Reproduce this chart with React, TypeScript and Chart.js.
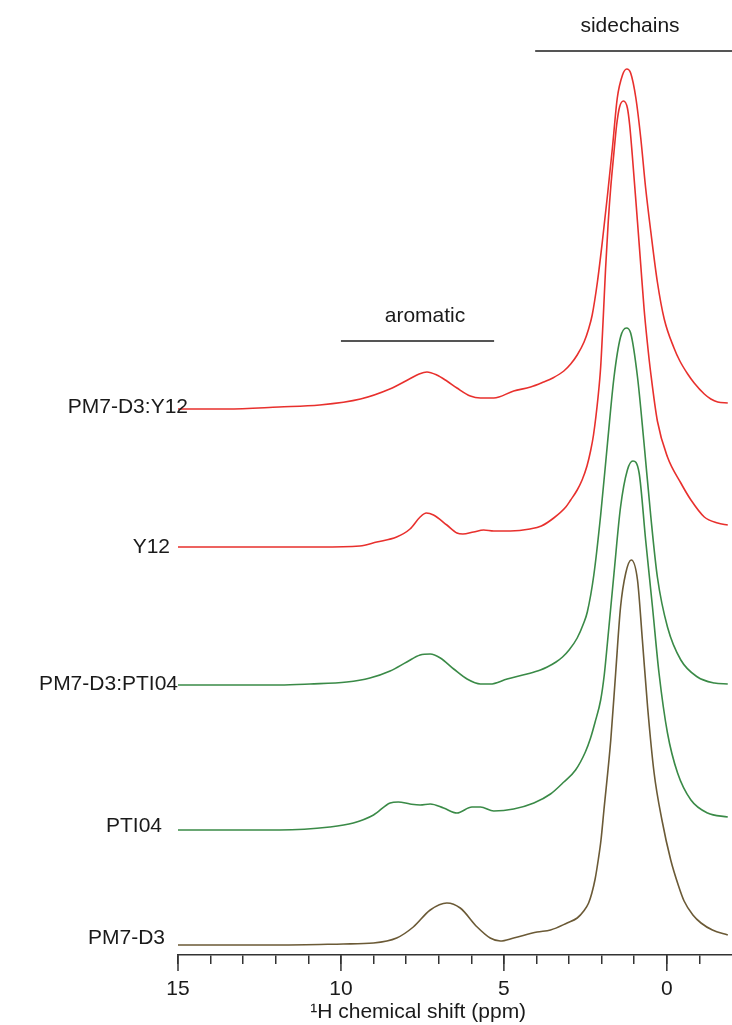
import { useEffect, useRef } from 'react';
import { Chart, registerables } from 'chart.js';

Chart.register(...registerables);

// ---- data (1H chemical shift in ppm, intensity in arbitrary units above each trace baseline) ----
const seriesNames = ['PM7-D3:Y12', 'Y12', 'PM7-D3:PTI04', 'PTI04', 'PM7-D3'];
const seriesOffsets = [546, 408, 270, 125, 10];

const shiftY12Complex = [15, 13.5, 11.9, 10.65, 9.4, 8.5, 7.9, 7.6, 7.36, 7.06, 6.75, 6.44, 6.03, 5.72, 5.31, 4.7, 4.18, 3.78, 3.5, 3.16, 2.95, 2.75, 2.54, 2.4, 2.29, 2.13, 1.98, 1.82, 1.67, 1.52, 1.36, 1.23, 1.11, 0.95, 0.8, 0.65, 0.49, 0.29, 0.08, -0.22, -0.4, -0.64, -0.84, -1.15, -1.35, -1.56, -1.87];
const intensityY12Complex = [0, 0, 2, 4, 10, 20, 30, 35, 37, 34, 28, 21, 13, 11, 11, 18, 22, 27, 31, 38, 45, 54, 67, 80, 94, 127, 167, 214, 261, 311, 334, 340, 336, 311, 271, 221, 177, 127, 90, 61, 48, 35, 26, 15, 10, 7, 6];

const shiftY12 = [15, 10.65, 9.42, 8.9, 8.29, 7.88, 7.57, 7.38, 7.16, 6.75, 6.44, 6.26, 5.93, 5.62, 5.31, 4.8, 4.2, 3.85, 3.47, 3.1, 2.95, 2.75, 2.6, 2.45, 2.34, 2.25, 2.11, 2.03, 1.95, 1.88, 1.8, 1.72, 1.63, 1.54, 1.45, 1.33, 1.21, 1.14, 1.06, 0.9, 0.8, 0.7, 0.6, 0.49, 0.29, -0.02, -0.43, -0.74, -1.15, -1.56, -1.87];
const intensityY12 = [0, 0, 1, 5, 10, 18, 30, 34, 32, 22, 14, 13, 15, 17, 16, 16, 18, 21, 29, 40, 47, 57, 67, 81, 96, 112, 150, 180, 230, 278, 324, 360, 392, 422, 440, 446, 439, 422, 392, 325, 282, 239, 205, 173, 126, 90, 64, 47, 30, 24, 22];

const shiftPti04Complex = [15, 11.88, 10.95, 9.82, 9.11, 8.49, 7.98, 7.57, 7.26, 6.95, 6.54, 6.13, 5.72, 5.42, 4.9, 4.29, 3.88, 3.67, 3.4, 3.2, 3.0, 2.75, 2.55, 2.44, 2.24, 2.03, 1.82, 1.62, 1.42, 1.24, 1.11, 0.9, 0.7, 0.49, 0.29, -0.02, -0.43, -0.94, -1.46, -1.87];
const intensityPti04Complex = [0, 0, 1, 3, 7, 14, 23, 30, 31, 27, 16, 6, 1, 1, 6, 11, 15, 18, 23, 28, 35, 47, 62, 73, 110, 170, 242, 308, 348, 357, 352, 308, 242, 168, 108, 58, 25, 8, 2, 1];

const shiftPti04 = [15, 11.88, 10.34, 9.62, 9.0, 8.49, 8.24, 7.88, 7.57, 7.26, 6.85, 6.44, 5.98, 5.72, 5.31, 4.7, 4.08, 3.57, 3.16, 2.8, 2.5, 2.34, 2.2, 2.03, 1.92, 1.82, 1.62, 1.42, 1.21, 1.04, 0.85, 0.65, 0.44, 0.24, -0.02, -0.33, -0.74, -1.25, -1.87];
const intensityPti04 = [0, 0, 3, 7, 15, 27, 28, 26, 25, 26, 22, 17, 23, 23, 19, 21, 27, 36, 48, 60, 78, 92, 108, 130, 155, 188, 257, 323, 360, 369, 357, 290, 223, 157, 97, 57, 30, 17, 13];

const shiftPm7D3 = [15, 11.88, 9.93, 9.0, 8.29, 7.78, 7.26, 6.75, 6.34, 5.82, 5.42, 5.11, 4.7, 3.98, 3.57, 3.06, 2.75, 2.55, 2.4, 2.3, 2.2, 2.1, 2.02, 1.93, 1.72, 1.57, 1.42, 1.26, 1.09, 0.9, 0.75, 0.59, 0.39, 0.15, -0.12, -0.35, -0.53, -0.8, -1.05, -1.4, -1.87];
const intensityPm7D3 = [0, 0, 1, 2, 7, 18, 35, 42, 37, 18, 7, 4, 7, 13, 15, 22, 27, 34, 42, 52, 66, 86, 105, 135, 205, 272, 338, 372, 385, 365, 305, 238, 172, 125, 85, 60, 44, 30, 22, 15, 10];

const seriesShifts = [shiftY12Complex, shiftY12, shiftPti04Complex, shiftPti04, shiftPm7D3];
const seriesIntensities = [intensityY12Complex, intensityY12, intensityPti04Complex, intensityPti04, intensityPm7D3];

const tickValues = [15, 14, 13, 12, 11, 10, 9, 8, 7, 6, 5, 4, 3, 2, 1, 0, -1];
const majorTickValues = [15, 10, 5, 0];

const regionLabels = ['aromatic', 'sidechains'];
const regionRanges = [[10, 5.3], [4.04, -2]];
const regionTextCenters = [7.42, 1.13];
const regionLevels = [614, 904];

const axisTitle = '\u00B9H chemical shift (ppm)';
const axisTitleCenter = 7.63;

// ---- styles ----
const COLORS = ['#e8302d', '#e8302d', '#3a8a47', '#3a8a47', '#6b5a36'];
const FONT = '"Liberation Sans", Arial, sans-serif';
const AXIS_COLOR = '#333333';
const LABEL_NUDGE_X = [10, -8, 0, -16, -13];
const LABEL_NUDGE_Y = [-2, 0, -1, -4, -7];

const overlayPlugin = {
  id: 'nmrOverlay',
  afterDraw(chart: any) {
    const { ctx, chartArea, scales } = chart;
    const x = scales.x;
    const y = scales.y;
    ctx.save();

    // long major ticks
    ctx.strokeStyle = AXIS_COLOR;
    ctx.lineWidth = 1.5;
    majorTickValues.forEach((v) => {
      const px = x.getPixelForValue(v);
      ctx.beginPath();
      ctx.moveTo(px, chartArea.bottom);
      ctx.lineTo(px, chartArea.bottom + 16);
      ctx.stroke();
    });

    // axis title
    ctx.fillStyle = '#1a1a1a';
    ctx.font = `21px ${FONT}`;
    ctx.textAlign = 'center';
    ctx.textBaseline = 'alphabetic';
    ctx.fillText(axisTitle, x.getPixelForValue(axisTitleCenter), chartArea.bottom + 63);

    // trace names
    ctx.textAlign = 'right';
    ctx.textBaseline = 'middle';
    seriesNames.forEach((name, i) => {
      const py = y.getPixelForValue(seriesOffsets[i]);
      ctx.fillText(name, chartArea.left + LABEL_NUDGE_X[i], py + LABEL_NUDGE_Y[i]);
    });

    // region brackets
    regionLabels.forEach((label, i) => {
      const py = y.getPixelForValue(regionLevels[i]);
      ctx.strokeStyle = '#555555';
      ctx.lineWidth = 2;
      ctx.beginPath();
      ctx.moveTo(x.getPixelForValue(regionRanges[i][0]), py);
      ctx.lineTo(x.getPixelForValue(regionRanges[i][1]), py);
      ctx.stroke();
      ctx.fillStyle = '#1a1a1a';
      ctx.textAlign = 'center';
      ctx.textBaseline = 'alphabetic';
      ctx.fillText(label, x.getPixelForValue(regionTextCenters[i]), py - 19);
    });

    ctx.restore();
  },
};

export default function App() {
  const canvasRef = useRef<HTMLCanvasElement | null>(null);

  useEffect(() => {
    if (!canvasRef.current) return;
    const datasets = seriesNames.map((name, i) => ({
      label: name,
      data: seriesShifts[i].map((s, j) => ({ x: s, y: seriesOffsets[i] + seriesIntensities[i][j] })),
      borderColor: COLORS[i],
      borderWidth: 1.6,
      pointRadius: 0,
      fill: false,
      cubicInterpolationMode: 'monotone' as const,
    }));

    const chart = new Chart(canvasRef.current, {
      type: 'line',
      data: { datasets },
      plugins: [overlayPlugin],
      options: {
        animation: false,
        responsive: false,
        maintainAspectRatio: false,
        layout: { padding: { left: 178, right: 0, top: 0, bottom: 0 } },
        plugins: { legend: { display: false }, tooltip: { enabled: false } },
        scales: {
          x: {
            type: 'linear',
            min: -2,
            max: 15,
            reverse: true,
            afterFit: (s: any) => {
              s.height = 70;
            },
            afterBuildTicks: (s: any) => {
              s.ticks = tickValues.map((v) => ({ value: v }));
            },
            ticks: {
              autoSkip: false,
              maxRotation: 0,
              padding: 13,
              color: '#1a1a1a',
              font: { family: FONT, size: 21 },
              callback: (v: any) => (majorTickValues.includes(Number(v)) ? String(v) : ''),
            },
            grid: {
              drawOnChartArea: false,
              drawTicks: true,
              tickLength: 9,
              color: AXIS_COLOR,
              lineWidth: 1.5,
            },
            border: { display: true, color: AXIS_COLOR, width: 1.5 },
          },
          y: {
            type: 'linear',
            display: false,
            min: 0,
            max: 955,
          },
        },
      },
    });
    return () => chart.destroy();
  }, []);

  return (
    <div style={{ position: 'absolute', left: 0, top: 0, width: 732, height: 1025, background: '#fff' }}>
      <canvas ref={canvasRef} width={732} height={1025} style={{ width: 732, height: 1025 }} />
    </div>
  );
}
